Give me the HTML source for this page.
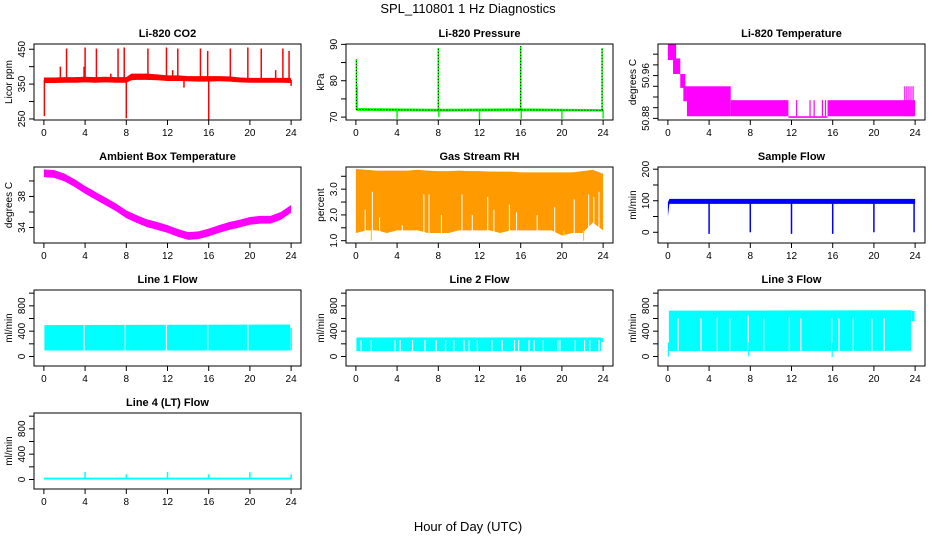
<!DOCTYPE html>
<html><head><meta charset="utf-8"><style>
body{margin:0;background:#fff}
svg text{font-family:"Liberation Sans",sans-serif}
</style></head><body>
<svg id="c" width="936" height="540" xmlns="http://www.w3.org/2000/svg">
<text x="468" y="13" text-anchor="middle" font-size="13">SPL_110801  1 Hz Diagnostics</text>
<text x="468" y="531" text-anchor="middle" font-size="13">Hour of Day (UTC)</text>
</svg>
<script>
// ---- data ----
const xTicks=[0,4,8,12,16,20,24];
const co2Hours=[0,1,2,3,4,5,6,7,8,8.5,9,10,11,12,13,14,15,16,17,18,19,20,21,22,23,24];
const co2Lo=[353,353,354,354,355,354,355,354,354,361,362,362,361,359,359,358,357,357,358,357,355,354,354,354,354,353];
const co2Hi=[369,369,370,370,371,370,371,370,370,380,380,380,378,375,375,373,373,373,373,372,369,368,368,368,368,368];
const co2SpikeHours=[0.05,1.6,2.2,3.9,4.0,5.1,6.5,7.2,7.8,8.0,10.1,11.9,12.5,13.0,13.6,15.2,15.9,16.0,18.1,19.8,21.1,22.5,23.2,23.8,24.0];
const co2SpikeVals=[258,400,452,400,455,452,380,452,455,252,452,455,390,452,340,452,445,247,452,455,452,390,452,445,345];
const pHours=[0.05,8,16,24];
const pLo=[71.7,71.5,71.6,71.5];
const pHi=[72.5,72.3,72.4,72.2];
const pSpikeHours=[0.05,0.12,4,8,8.05,12,16,16.05,20,23.9,24];
const pSpikeVals=[86,78.5,69.5,89,70,69.2,89.5,69.5,69.5,89,69.6];
const tStart=[0,0.5,1.2,1.5,1.85,6.1,11.7,15.5];
const tEnd=[0.8,1.2,1.7,1.85,6.1,11.7,15.5,24];
const tLo=[50.989,50.963,50.937,50.912,50.884,50.884,50.881,50.884];
const tHi=[51.019,50.992,50.963,50.94,50.94,50.914,50.884,50.914];
const tSpikeHours=[11.0,11.3,12.5,13.8,14.2,15.0,15.3,23.0,23.2,23.4,23.6,23.8];
const tSpikeVals=[50.914,50.914,50.914,50.914,50.914,50.914,50.914,50.94,50.94,50.94,50.94,50.94];
const ambHours=[0,1,2,3,4,5,6,7,8,9,10,11,12,13,14,15,16,17,18,19,20,21,22,23,24];
const ambMid=[41.0,40.9,40.45,39.7,38.85,38.1,37.35,36.6,35.7,35.1,34.55,34.2,33.8,33.3,32.9,33.0,33.35,33.8,34.2,34.5,34.85,35.0,35.0,35.5,36.4];
const rhHours=[0,1,2,3,4,5,6,7,8,9,10,11,12,13,14,15,16,17,18,19,20,21,22,23,24];
const rhLo=[1.3,1.4,1.4,1.3,1.4,1.4,1.4,1.3,1.3,1.3,1.4,1.4,1.4,1.4,1.3,1.4,1.4,1.4,1.4,1.4,1.2,1.3,1.3,1.7,1.4];
const rhHi=[3.78,3.75,3.72,3.72,3.72,3.72,3.75,3.72,3.7,3.7,3.72,3.7,3.7,3.68,3.68,3.68,3.65,3.65,3.65,3.65,3.65,3.65,3.7,3.75,3.6];
const rhDipHours=[0.9,1.5,20.2,22.1];
const rhDipVals=[1.2,1.0,1.2,1.0];
const rhGapHours=[0.9,1.6,2.3,4.5,6.6,7.1,8.3,10.3,11.3,12.8,13.4,14.9,15.6,17.6,19.3,21.2,22.6,23.1,23.6];
const rhGapVals=[2.2,2.9,1.9,1.6,2.8,2.8,2.0,2.8,2.0,2.7,2.2,2.4,2.1,2.0,2.3,2.6,2.8,2.7,2.9];
const sfHours=[0,0.15,24];
const sfLo=[50,90,90];
const sfHi=[95,106,106];
const sfSpikeHours=[4,8,12,16,20,23.9];
const sfSpikeVals=[-5,0,-5,-5,0,0];
const l1Hours=[0.05,23.9];const l1Lo=[95,95];const l1Hi=[495,505];
const l1GapHours=[3.9,7.9,11.9,15.9,19.8];
const l1TailHour=[24];const l1TailVal=[450];
const l2Hours=[0.05,23.8];const l2Lo=[85,85];const l2Hi=[300,300];
const l2GapHours=[0.5,1.5,3.8,4.3,5.5,6.7,7.8,8.7,9.5,10.5,11.0,11.8,13.2,14.2,15.4,15.8,16.8,17.3,18.2,19.6,19.8,21.3,22.2,22.7,23.6];
const l3Hours=[0.1,23.6];const l3Lo=[85,90];const l3Hi=[725,730];
const l3GapHours=[1.0,3.2,4.8,6.0,7.8,9.3,11.8,12.9,15.9,16.6,18.0,19.8,21.0];
const l3GapVals=[600,600,620,600,650,600,620,600,600,600,600,600,600];
const l3DipHours=[0.05,7.85,15.95];const l3DipVals=[0,0,-10];
const l4Hours=[0,24];const l4Lo=[0,0];const l4Hi=[30,30];
const l4SpikeHours=[4,8,12,16,20,24];const l4SpikeVals=[120,80,120,80,120,80];

// ---- drawing ----
const svg=document.getElementById('c');const NS='http://www.w3.org/2000/svg';
function mk(tag,attrs,parent){const e=document.createElementNS(NS,tag);for(const k in attrs)e.setAttribute(k,attrs[k]);(parent||svg).appendChild(e);return e;}
const colL=[34,346,658],rowT=[44,167,290,413],W=267,H=76;
function panel(col,row,title,ylab,ymin,ymax,yticks,ylabels,name){
 const L=colL[col],T=rowT[row];
 const g=mk('g',{});
 
 
 const sx=h=>L+(h+0.96)/25.92*W;
 const sy=v=>T+H-(v-ymin)/(ymax-ymin)*H;
 const plot=mk('g',{},g);
 
 
 const t=mk('text',{x:L+W/2,y:T-7,'text-anchor':'middle','font-size':11,'font-weight':'bold'},g);t.textContent=title;
 
 
 const bx=mk('rect',{x:L,y:T,width:W,height:H,fill:'none',stroke:'#000','stroke-width':1},g);
 
 
 mk('line',{x1:sx(0),x2:sx(24),y1:T+H,y2:T+H,stroke:'#000'},g);
 xTicks.forEach(h=>{mk('line',{x1:sx(h),x2:sx(h),y1:T+H,y2:T+H+5,stroke:'#000'},g);
  const tx=mk('text',{x:sx(h),y:T+H+16,'text-anchor':'middle','font-size':10},g);tx.textContent=h;
  
  });
 yticks.forEach(v=>mk('line',{x1:L-5,x2:L,y1:sy(v),y2:sy(v),stroke:'#000'},g));
 ylabels.forEach(s=>{const y=sy(parseFloat(s));const tx=mk('text',{x:L-9,y:y,'text-anchor':'middle','font-size':10,transform:`rotate(-90 ${L-9} ${y})`},g);tx.textContent=s;
  
  });
 const yl=mk('text',{x:L-22,y:T+H/2,'text-anchor':'middle','font-size':10,transform:`rotate(-90 ${L-22} ${T+H/2})`},g);yl.textContent=ylab;
 
 
 return {sx,sy,g:plot};
}
function band(p,hours,lo,hi,fill){let d='';hours.forEach((h,i)=>d+=(i?'L':'M')+p.sx(h)+','+p.sy(hi[i]));
 for(let i=hours.length-1;i>=0;i--)d+='L'+p.sx(hours[i])+','+p.sy(lo[i]);
 const e=mk('path',{d:d+'Z',fill:fill},p.g);}
function vline(p,h,v0,v1,col,w){const e=mk('line',{x1:p.sx(h),x2:p.sx(h),y1:p.sy(v0),y2:p.sy(v1),stroke:col,'stroke-width':w||1.5},p.g);
 return e;}

let p=panel(0,0,'Li-820 CO2','Licor ppm',247,465,[250,300,350,400,450],['250','350','450'],'co2');
band(p,co2Hours,co2Lo,co2Hi,'#ff0000');
co2SpikeHours.forEach((h,i)=>vline(p,h,362,co2SpikeVals[i],'#ff0000',1.5));

p=panel(1,0,'Li-820 Pressure','kPa',69.2,90.1,[70,75,80,85,90],['70','80','90'],'pressure');
band(p,pHours,pLo,pHi,'#00ff00');
pSpikeHours.forEach((h,i)=>vline(p,h,72,pSpikeVals[i],'#00ff00',1.5));
{let d='';pHours.forEach((h,i)=>d+=(i?'L':'M')+p.sx(h)+','+p.sy((pLo[i]+pHi[i])/2));
 const e=mk('path',{d:d,fill:'none',stroke:'#000','stroke-dasharray':'1,2'},p.g);}
[0,3,6,9].forEach(i=>vline(p,pSpikeHours[i],72,pSpikeVals[i],'#000',1).setAttribute('stroke-dasharray','1,2'));

p=panel(2,0,'Li-820 Temperature','degrees C',50.877,51.019,[50.88,50.90,50.92,50.94,50.96,50.98,51.00],['50.88','50.96'],'li820-temp');
tStart.forEach((s,i)=>{const e=mk('rect',{x:p.sx(s),y:p.sy(tHi[i]),width:p.sx(tEnd[i])-p.sx(s),height:Math.max(1.5,p.sy(tLo[i])-p.sy(tHi[i])),fill:'#ff00ff'},p.g);
 });
tSpikeHours.forEach((h,i)=>vline(p,h,50.884,tSpikeVals[i],'#ff00ff',1.2));

p=panel(0,1,'Ambient Box Temperature','degrees C',32,41.8,[34,36,38,40],['34','38'],'ambient-temp');
band(p,ambHours,ambMid.map(v=>v-0.5),ambMid.map(v=>v+0.5),'#ff00ff');

p=panel(1,1,'Gas Stream RH','percent',0.91,3.86,[1,1.5,2,2.5,3,3.5],['1.0','2.0','3.0'],'rh');
band(p,rhHours,rhLo,rhHi,'#ff9a00');
rhDipHours.forEach((h,i)=>vline(p,h,1.4,rhDipVals[i],'#ffcc00',1.2));
rhGapHours.forEach((h,i)=>vline(p,h,1.2,rhGapVals[i],'#ffffff',1));

p=panel(2,1,'Sample Flow','ml/min',-34,207,[0,50,100,150,200],['0','100','200'],'sample-flow');
band(p,sfHours,sfLo,sfHi,'#0000ff');
sfSpikeHours.forEach((h,i)=>vline(p,h,95,sfSpikeVals[i],'#0000ff',1.5));

const ft=[0,200,400,600,800,1000],fl=['0','400','800'];
p=panel(0,2,'Line 1 Flow','ml/min',-150,1050,ft,fl,'line1-flow');
band(p,l1Hours,l1Lo,l1Hi,'#00ffff');
l1GapHours.forEach(h=>vline(p,h,95,500,'#ffffff',1.2));
l1TailHour.forEach((h,i)=>vline(p,h,95,l1TailVal[i],'#00ffff',1.5));

p=panel(1,2,'Line 2 Flow','ml/min',-150,1050,ft,fl,'line2-flow');
band(p,l2Hours,l2Lo,l2Hi,'#00ffff');
l2GapHours.forEach(h=>vline(p,h,85,260,'#ffffff',1.2));
vline(p,23.9,230,290,'#00ffff',2);

p=panel(2,2,'Line 3 Flow','ml/min',-150,1050,ft,fl,'line3-flow');
band(p,l3Hours,l3Lo,l3Hi,'#00ffff');
l3GapHours.forEach((h,i)=>vline(p,h,90,l3GapVals[i],'#ffffff',1.2));
l3DipHours.forEach((h,i)=>vline(p,h,220,l3DipVals[i],'#00ffff',1.2));
vline(p,23.8,560,720,'#00ffff',3);

p=panel(0,3,'Line 4 (LT) Flow','ml/min',-150,1050,ft,fl,'line4-flow');
band(p,l4Hours,l4Lo,l4Hi,'#00ffff');
l4SpikeHours.forEach((h,i)=>vline(p,h,15,l4SpikeVals[i],'#00ffff',1.5));
</script>
</body></html>
